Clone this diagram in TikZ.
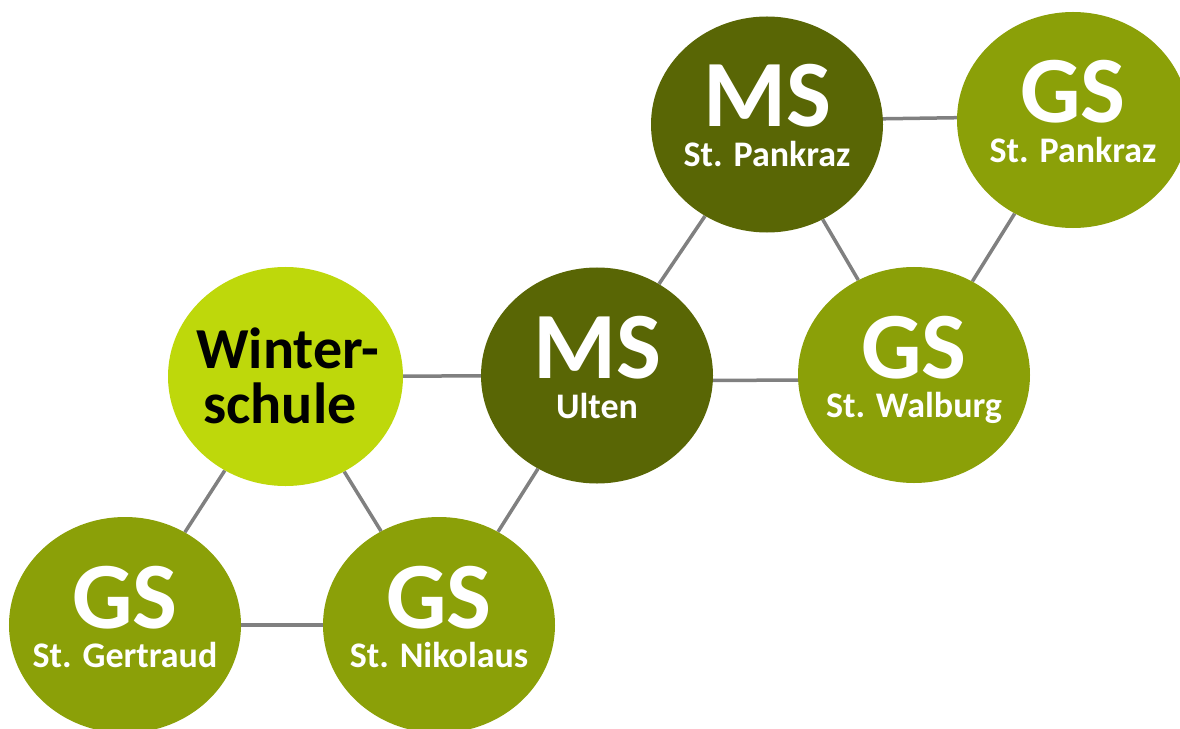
\documentclass[tikz,border=0pt]{standalone}
\usepackage{fontspec}
\setmainfont{Carlito}
\usetikzlibrary{shapes.geometric,backgrounds,calc}
\definecolor{msdark}{RGB}{89,102,5}
\definecolor{gsmid}{RGB}{139,160,8}
\definecolor{wslight}{RGB}{190,216,11}
\definecolor{linkgray}{RGB}{128,128,128}
% two centred lines; baseline of the box = baseline of the first line
\newcommand\schoollabel[3]{\vtop{\baselineskip=#3\lineskiplimit=-1000pt\relax
  \halign{\hfil##\hfil\cr #1\cr #2\cr}}}
\newcommand\bigfont{\fontsize{95bp}{95bp}\selectfont}
\newcommand\smallfont{\fontsize{36bp}{36bp}\selectfont}
\begin{document}
\begin{tikzpicture}[x=1bp,y=-1bp,
  school/.style={ellipse, minimum width=232bp, minimum height=216bp, inner sep=0pt, draw=none},
  ms/.style={school, fill=msdark},
  gs/.style={school, fill=gsmid},
  ws/.style={school, fill=wslight, minimum width=235bp, minimum height=219bp},
  lbl/.style={anchor=base, text=white, font=\bfseries, inner sep=0pt},
  wstext/.style={anchor=base, text=black, font=\fontsize{58bp}{58bp}\selectfont\bfseries, inner sep=0pt},
  link/.style={draw=linkgray, line width=3.5bp}]
\useasboundingbox (0,0) rectangle (1180,729);

% circles
\node[ws] (ws)  at (285.5,376.5) {};
\node[ms] (ul)  at (597,375.5) {};
\node[gs] (wa)  at (914,375) {};
\node[ms] (msp) at (767,124.5) {};
\node[gs] (gsp) at (1073,120) {};
\node[gs] (ge)  at (125,625) {};
\node[gs] (ni)  at (439,625) {};

% texts
\node[wstext] (wst) at ($(ws)+(-5.5,-8.5)$) {\schoollabel{\kern16bp Winter-}{schule}{55bp}};

\node[lbl] (ult) at ($(ul)+(0,2.5)$)  {\schoollabel{\bigfont MS}{\smallfont Ulten}{40bp}};
\node[lbl] (wat) at ($(wa)+(0,3)$)    {\schoollabel{\bigfont GS}{\smallfont St. Walburg}{39.5bp}};
\node[lbl] (mst) at ($(msp)+(0,2.5)$) {\schoollabel{\bigfont MS}{\smallfont St. Pankraz}{40bp}};
\node[lbl] (gst) at ($(gsp)+(0,3)$)   {\schoollabel{\bigfont GS}{\smallfont St. Pankraz}{40bp}};
\node[lbl] (get) at ($(ge)+(0,3)$)    {\schoollabel{\bigfont GS}{\smallfont St. Gertraud}{39.5bp}};
\node[lbl] (nit) at ($(ni)+(0,3)$)    {\schoollabel{\bigfont GS}{\smallfont St. Nikolaus}{39.5bp}};

% connectors
\begin{pgfonlayer}{background}
\draw[link] (ws) -- (ul);
\draw[link] (ws) -- (ge);
\draw[link] (ws) -- (ni);
\draw[link] (ge) -- (ni);
\draw[link] (ni) -- (ul);
\draw[link] (ul) -- (msp);
\draw[link] ([yshift=-5bp]ul.center) -- ([yshift=-5bp]wa.center);
\draw[link] (msp) -- (wa);
\draw[link] ([yshift=4bp]msp.center) -- ([yshift=4bp]gsp.center);
\draw[link] (gsp) -- (wa);
\end{pgfonlayer}
\end{tikzpicture}
\end{document}
